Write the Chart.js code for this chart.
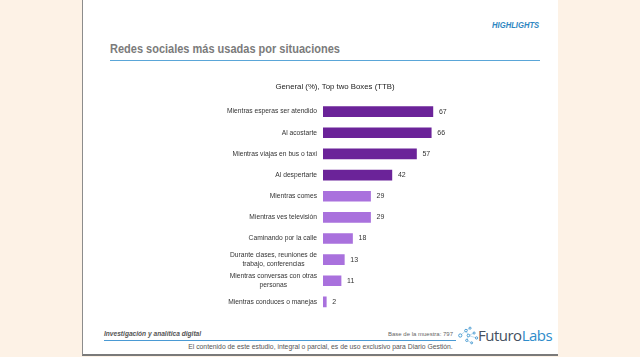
<!DOCTYPE html>
<html><head><meta charset="utf-8">
<script src="https://cdn.jsdelivr.net/npm/chart.js@4/dist/chart.umd.min.js"></script>
<style>
html,body{margin:0;padding:0;width:640px;height:357px;overflow:hidden;background:#fdf2e6;font-family:"Liberation Sans",Arial,sans-serif;}
#slide{position:absolute;left:82px;top:0;width:475px;height:354px;background:#fff;border-left:1px solid #8c8c8c;border-bottom:2px solid #7a7a7a;}
.abs{position:absolute;white-space:nowrap;}
#hl{right:19px;top:20px;font-size:8.3px;font-weight:bold;font-style:italic;color:#2e86c1;transform:scaleX(0.92);transform-origin:right center;}
#ttl{left:27px;top:42px;font-size:12.5px;font-weight:bold;color:#7b7b7b;transform:scaleX(0.88);transform-origin:left top;}
#ttlline{left:27px;top:60px;width:430px;height:1px;background:#5aa6d8;}
#inv{left:21px;top:330px;font-size:6.6px;font-style:italic;font-weight:bold;color:#555;}
#invline{left:21px;top:340px;width:352px;height:1px;background:#4a9ad4;}
#base{left:305px;top:331px;font-size:6px;color:#666;}
#disc{left:0;width:475px;top:343px;text-align:center;font-size:6.8px;color:#555;}
#logo{left:395px;top:325px;font-size:15px;color:#45505e;font-family:"Open Sans","Liberation Sans",Arial;letter-spacing:-0.5px;}
#logo span{color:#2e8ccb;}
#cw{position:absolute;left:183px;top:81px;width:304px;height:241px;}
</style></head><body>
<div id="slide">
  <div class="abs" id="hl">HIGHLIGHTS</div>
  <div class="abs" id="ttl">Redes sociales más usadas por situaciones</div>
  <div class="abs" id="ttlline"></div>
  <div class="abs" id="inv">Investigación y analítica digital</div>
  <div class="abs" id="invline"></div>
  <div class="abs" id="base">Base de la muestra: 797</div>
  <svg class="abs" style="left:374px;top:324px" width="22" height="23" viewBox="0 0 27 24">
    <g stroke="#7fb6dd" stroke-width="0.6" fill="none">
      <line x1="4" y1="12" x2="11" y2="6"/><line x1="11" y1="6" x2="16" y2="3"/><line x1="11" y1="6" x2="14" y2="12"/>
      <line x1="14" y1="12" x2="21" y2="9"/><line x1="14" y1="12" x2="12" y2="18"/><line x1="12" y1="18" x2="18" y2="21"/><line x1="14" y1="12" x2="24" y2="15"/>
    </g>
    <g fill="#fff" stroke="#2e8ccb" stroke-width="1">
      <circle cx="4" cy="12" r="2"/><circle cx="11" cy="6" r="1.6"/><circle cx="16" cy="3" r="1.3"/><circle cx="14" cy="12" r="1.6"/>
      <circle cx="21" cy="9" r="1.3"/><circle cx="12" cy="18" r="1.4"/><circle cx="18" cy="21" r="1.2"/><circle cx="24" cy="15" r="1.4"/>
    </g>
  </svg>
  <div class="abs" id="logo">Futuro<span>Labs</span></div>
  <div class="abs" id="disc">El contenido de este estudio, integral o parcial, es de uso exclusivo para Diario Gestión.</div>
</div>
<div id="cw"><canvas id="c"></canvas></div>
<script>
const categories = [
  "Mientras esperas ser atendido",
  "Al acostarte",
  "Mientras viajas en bus o taxi",
  "Al despertarte",
  "Mientras comes",
  "Mientras ves televisión",
  "Caminando por la calle",
  ["Durante clases, reuniones de", "trabajo, conferencias"],
  ["Mientras conversas con otras", "personas"],
  "Mientras conduces o manejas"
];
const values = [67, 66, 57, 42, 29, 29, 18, 13, 11, 2];
const dark = "#6b2399";
const light = "#a971dd";
const barColors = values.map((v, i) => i < 4 ? dark : light);
const chartTitle = "General (%), Top two Boxes (TTB)";

const FONT = "'Liberation Sans', Arial, sans-serif";

const valueLabels = {
  id: "valueLabels",
  afterDatasetsDraw(chart) {
    const ctx = chart.ctx;
    const meta = chart.getDatasetMeta(0);
    ctx.save();
    ctx.font = "7px " + FONT;
    ctx.fillStyle = "#333";
    ctx.textAlign = "left";
    ctx.textBaseline = "middle";
    meta.data.forEach((bar, i) => {
      ctx.fillText(String(values[i]), bar.x + 6, bar.y);
    });
    ctx.restore();
  }
};

// category labels: right-aligned block, lines centred within the block
const categoryLabels = {
  id: "categoryLabels",
  afterDraw(chart) {
    const ctx = chart.ctx;
    const scale = chart.scales.y;
    const right = chart.chartArea.left - 6;
    const lh = 6.7 * 1.25;
    ctx.save();
    ctx.font = "6.7px " + FONT;
    ctx.fillStyle = "#333";
    ctx.textAlign = "center";
    ctx.textBaseline = "middle";
    chart.data.labels.forEach((lab, i) => {
      const lines = Array.isArray(lab) ? lab : [lab];
      const w = Math.max(...lines.map(l => ctx.measureText(l).width));
      const cx = right - w / 2;
      const y = scale.getPixelForValue(i);
      const y0 = y - (lines.length - 1) * lh / 2;
      lines.forEach((l, k) => ctx.fillText(l, cx, y0 + k * lh));
    });
    ctx.restore();
  }
};

new Chart(document.getElementById("c"), {
  type: "bar",
  data: {
    labels: categories,
    datasets: [{
      data: values,
      backgroundColor: barColors,
      borderWidth: 0,
      barThickness: 10
    }]
  },
  options: {
    indexAxis: "y",
    responsive: true,
    maintainAspectRatio: false,
    animation: false,
    layout: { padding: { top: 0, bottom: 9.5 } },
    plugins: {
      legend: { display: false },
      tooltip: { enabled: false },
      title: {
        display: true,
        text: chartTitle,
        color: "#222",
        font: { family: FONT, size: 7.8, weight: "normal", lineHeight: 1.2 },
        padding: { top: 1.5, bottom: 9.2 }
      }
    },
    scales: {
      x: { display: false, min: 0, max: 100 },
      y: {
        afterFit(scale) { scale.width = 140; },
        grid: { display: false, drawTicks: false },
        border: { display: false },
        ticks: { display: false }
      }
    }
  },
  plugins: [valueLabels, categoryLabels]
});
</script>
</body></html>
